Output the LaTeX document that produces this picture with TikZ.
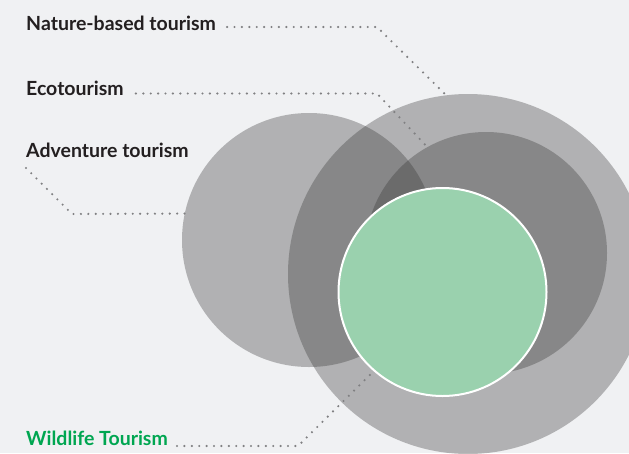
\documentclass[tikz,border=0pt]{standalone}
\usepackage{fontspec}
\setmainfont{Lato}
\definecolor{bgpaper}{RGB}{240,241,243}
\definecolor{inkdark}{RGB}{35,31,32}
\definecolor{wildfill}{RGB}{154,209,174}
\definecolor{wildtext}{RGB}{0,166,81}
\definecolor{dotgray}{RGB}{128,128,130}
\begin{document}
\begin{tikzpicture}[x=1pt,y=-1pt,
    ring/.style={circle,inner sep=0pt,fill=black!80,fill opacity=1/3},
    leader/.style={dotgray,line width=2.4pt,line cap=round,dash pattern=on 0pt off 7.4pt},
    termlabel/.style={anchor=base west,inner sep=0pt,text=inkdark,font=\bfseries\fontsize{19.5}{21}\selectfont}]
    \fill[bgpaper] (0,0) rectangle (629,453);
    \clip (0,0) rectangle (629,453);

    \node[ring,minimum size=360pt] (nature) at (468,274) {};
    \node[ring,minimum size=254pt] (adventure) at (309,240) {};
    \node[ring,minimum size=242pt] (eco) at (486,253) {};
    \node[circle,inner sep=0pt,minimum size=208pt,fill=wildfill,draw=white,line width=2pt] (wildlife) at (442.5,292) {};

    \node[termlabel] (natlbl) at (26,30.5) {Nature-based tourism};
    \node[termlabel] (ecolbl) at (26,95) {Ecotourism};
    \node[termlabel] (advlbl) at (26,157) {Adventure tourism};
    \node[termlabel,text=wildtext] (wildlbl) at (26,445) {Wildlife Tourism};

    \coordinate (natbend) at (377,27);
    \coordinate (ecobend) at (377,93.5);
    \coordinate (advbend) at (72,214);
    \coordinate (wildbend) at (298,446);

    \draw[leader] ([shift={(11pt,3.5pt)}]natlbl.base east) -- (natbend) -- (nature.97);
    \draw[leader] ([shift={(12pt,1.5pt)}]ecolbl.base east) -- (ecobend) -- (eco.119.5);
    \draw[leader] ([yshift=-11pt]advlbl.base west) -- (advbend) -- (adventure.168);
    \draw[leader,shorten >=4pt] ([shift={(9pt,-1pt)}]wildlbl.base east) -- (wildbend) -- (wildlife.229);
\end{tikzpicture}
\end{document}
